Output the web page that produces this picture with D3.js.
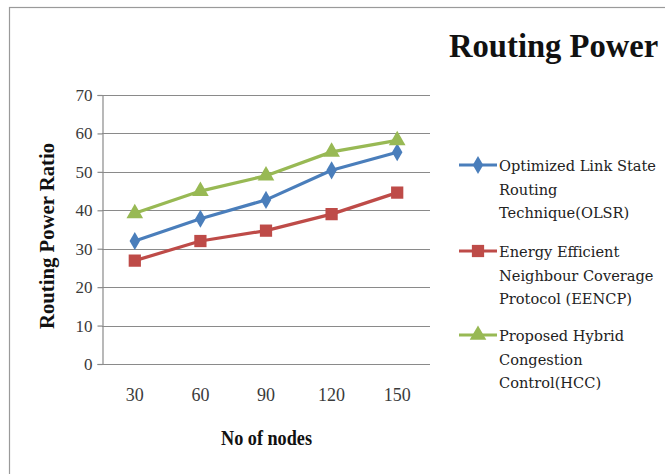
<!DOCTYPE html>
<html>
<head>
<meta charset="utf-8">
<script src="https://cdn.jsdelivr.net/npm/d3@7"></script>
<style>
  html, body { margin: 0; padding: 0; background: #ffffff; }
  svg { display: block; }
</style>
</head>
<body>
<svg id="chart" width="665" height="474"></svg>
<script>
// Chart data
const nodes = ["30", "60", "90", "120", "150"];
const olsr  = [32, 37.8, 42.7, 50.4, 55.1];
const eencp = [26.9, 32, 34.7, 39, 44.6];
const hcc   = [39.2, 45, 49, 55.2, 58.2];
const yTicks = [0, 10, 20, 30, 40, 50, 60, 70];
const seriesNames = [
  ["Optimized Link State", "Routing", "Technique(OLSR)"],
  ["Energy Efficient", "Neighbour Coverage", "Protocol (EENCP)"],
  ["Proposed Hybrid", "Congestion", "Control(HCC)"]
];

const SERIF = '"Liberation Serif", "Times New Roman", serif';
const WIDE_SERIF = '"DejaVu Serif", serif';

const series = [
  { values: olsr,  color: "#4a7ebb", shape: d3.symbolDiamond,  size: 95,  lines: seriesNames[0] },
  { values: eencp, color: "#be4b48", shape: d3.symbolSquare,   size: 150, lines: seriesNames[1] },
  { values: hcc,   color: "#98b954", shape: d3.symbolTriangle, size: 120, lines: seriesNames[2] }
];

const svg = d3.select("#chart");

// Outer frame
svg.append("rect")
  .attr("x", 9.5).attr("y", 7.5)
  .attr("width", 700).attr("height", 500)
  .attr("fill", "none").attr("stroke", "#9a9a9a").attr("stroke-width", 1.2);

const plot = { left: 102, right: 430, top: 95, bottom: 364 };

const x = d3.scaleBand().domain(nodes).range([plot.left, plot.right]);
const y = d3.scaleLinear().domain([0, 70]).range([plot.bottom, plot.top]);

// Horizontal gridlines
svg.append("g")
  .selectAll("line")
  .data(yTicks)
  .join("line")
  .attr("x1", plot.left).attr("x2", plot.right)
  .attr("y1", d => Math.round(y(d)) + 0.5).attr("y2", d => Math.round(y(d)) + 0.5)
  .attr("stroke", "#8a8a8a").attr("stroke-width", 1.2);

// Y axis with outward ticks
const yAxis = svg.append("g")
  .attr("transform", `translate(${plot.left + 0.5},0)`)
  .call(d3.axisLeft(y).tickValues(yTicks).tickSize(5).tickPadding(5).tickFormat(d3.format("d")));
yAxis.select(".domain").attr("stroke", "#8a8a8a").attr("stroke-width", 1.2);
yAxis.selectAll(".tick line").attr("stroke", "#8a8a8a").attr("stroke-width", 1.2);
yAxis.selectAll(".tick text")
  .style("font-family", SERIF)
  .style("font-size", "17px").attr("fill", "#3a3a3a");

// X axis labels
const xAxis = svg.append("g")
  .attr("transform", `translate(0,${plot.bottom + 0.5})`)
  .call(d3.axisBottom(x).tickSize(0).tickPadding(24));
xAxis.select(".domain").remove();
xAxis.selectAll(".tick text")
  .style("font-family", SERIF)
  .style("font-size", "18px").attr("fill", "#3a3a3a");

// Series lines and markers
const line = d3.line()
  .x((d, i) => x(nodes[i]) + x.bandwidth() / 2)
  .y(d => y(d));

series.forEach(s => {
  svg.append("path")
    .datum(s.values)
    .attr("d", line)
    .attr("fill", "none")
    .attr("stroke", s.color)
    .attr("stroke-width", 3.2)
    .attr("stroke-linejoin", "round");
  svg.append("g")
    .selectAll("path")
    .data(s.values)
    .join("path")
    .attr("transform", (d, i) => `translate(${x(nodes[i]) + x.bandwidth() / 2},${y(d)})`)
    .attr("d", d3.symbol().type(s.shape).size(s.size))
    .attr("fill", s.color);
});

// Title (slightly condensed bold serif)
svg.append("text")
  .attr("transform", "translate(449,57) scale(0.96,1)")
  .style("font-family", SERIF)
  .style("font-size", "34px").style("font-weight", "bold")
  .attr("fill", "#111")
  .text("Routing Power");

// Axis titles
svg.append("text")
  .attr("transform", "translate(54,236) rotate(-90)")
  .attr("x", -93)
  .attr("textLength", 186).attr("lengthAdjust", "spacingAndGlyphs")
  .style("font-family", SERIF)
  .style("font-size", "21px").style("font-weight", "bold")
  .attr("fill", "#111")
  .text("Routing Power Ratio");

svg.append("text")
  .attr("x", 221).attr("y", 445)
  .attr("textLength", 91).attr("lengthAdjust", "spacingAndGlyphs")
  .style("font-family", SERIF)
  .style("font-size", "20px").style("font-weight", "bold")
  .attr("fill", "#111")
  .text("No of nodes");

// Legend
const legendTop = [165, 251, 335];
series.forEach((s, k) => {
  const g = svg.append("g").attr("transform", `translate(0,${legendTop[k]})`);
  g.append("line")
    .attr("x1", 459).attr("x2", 497).attr("y1", 0).attr("y2", 0)
    .attr("stroke", s.color).attr("stroke-width", 3.2);
  g.append("path")
    .attr("transform", "translate(478,0)")
    .attr("d", d3.symbol().type(s.shape).size(s.size))
    .attr("fill", s.color);
  g.append("text")
    .attr("x", 499).attr("y", 6)
    .style("font-family", WIDE_SERIF)
    .style("font-size", "14.6px")
    .attr("fill", "#222")
    .selectAll("tspan")
    .data(s.lines)
    .join("tspan")
    .attr("x", 499)
    .attr("dy", (d, i) => i === 0 ? 0 : 23.5)
    .text(d => d);
});
</script>
</body>
</html>
